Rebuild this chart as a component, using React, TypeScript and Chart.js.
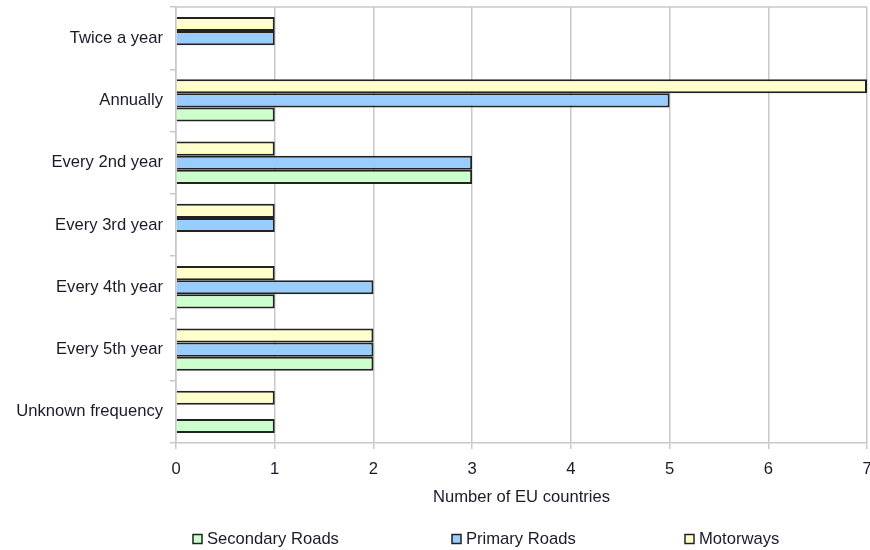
import { useEffect, useRef } from 'react';
import { Chart, registerables } from 'chart.js';

Chart.register(...registerables);

const categories = [
  'Twice a year',
  'Annually',
  'Every 2nd year',
  'Every 3rd year',
  'Every 4th year',
  'Every 5th year',
  'Unknown frequency',
];
const motorways = [1, 7, 1, 1, 1, 2, 1];
const primaryRoads = [1, 5, 3, 1, 2, 2, 0];
const secondaryRoads = [0, 1, 3, 0, 1, 2, 1];
const xTicks = [0, 1, 2, 3, 4, 5, 6, 7];

const FONT = '"Liberation Sans", Arial, sans-serif';
const FSIZE = 16.6;
const TEXT = '#1a1a2a';
const GRID = '#c8c8c8';

// legend item x positions (box left), drawn under the axis title
const legendX = [193, 452, 685];

const frame = {
  id: 'frame',
  beforeDatasetsDraw(chart: Chart) {
    const { ctx, chartArea } = chart;
    ctx.save();
    ctx.strokeStyle = GRID;
    ctx.lineWidth = 1.5;
    ctx.beginPath();
    ctx.moveTo(chartArea.left, chartArea.top);
    ctx.lineTo(chartArea.right, chartArea.top);
    ctx.stroke();
    ctx.restore();
  },
};

const bottomLegend = {
  id: 'bottomLegend',
  afterDraw(chart: Chart) {
    const { ctx } = chart;
    const items = chart.data.datasets.slice().reverse();
    ctx.save();
    ctx.font = `${FSIZE}px ${FONT}`;
    ctx.textBaseline = 'middle';
    items.forEach((ds, i) => {
      const x = legendX[i];
      const y = 539;
      ctx.fillStyle = ds.backgroundColor as string;
      ctx.fillRect(x, y - 4.5, 9, 9);
      ctx.strokeStyle = '#222';
      ctx.lineWidth = 1.5;
      ctx.strokeRect(x, y - 4.5, 9, 9);
      ctx.fillStyle = TEXT;
      ctx.fillText(ds.label as string, x + 14, y);
    });
    ctx.restore();
  },
};

export default function App() {
  const canvasRef = useRef<HTMLCanvasElement>(null);

  useEffect(() => {
    document.body.style.margin = '0';
    if (!canvasRef.current) return;
    const chart = new Chart(canvasRef.current, {
      type: 'bar',
      data: {
        labels: categories,
        datasets: [
          { label: 'Motorways', data: motorways, backgroundColor: '#ffffcc' },
          { label: 'Primary Roads', data: primaryRoads, backgroundColor: '#99ccff' },
          { label: 'Secondary Roads', data: secondaryRoads, backgroundColor: '#ccffcc' },
        ].map((d) => ({
          ...d,
          borderColor: '#222',
          borderWidth: 2,
          barPercentage: 1,
          categoryPercentage: 0.68,
        })),
      },
      options: {
        indexAxis: 'y',
        responsive: false,
        animation: false,
        layout: { padding: { top: 7, right: 3, left: 0, bottom: 0 } },
        plugins: { legend: { display: false }, tooltip: { enabled: false } },
        scales: {
          x: {
            min: 0,
            max: 7,
            afterBuildTicks: (s) => { s.ticks = xTicks.map((v) => ({ value: v })); },
            afterFit: (s) => { s.height = 107; s.paddingLeft = 0; s.paddingRight = 0; },
            grid: { color: GRID, lineWidth: 1.5, tickLength: 6 },
            border: { color: GRID, width: 1.5 },
            ticks: { color: TEXT, font: { family: FONT, size: FSIZE }, padding: 10 },
            title: {
              display: true,
              text: 'Number of EU countries',
              color: TEXT,
              font: { family: FONT, size: FSIZE },
              padding: { top: 0, bottom: 43 },
            },
          },
          y: {
            afterFit: (s) => { s.width = 176; s.paddingTop = 0; s.paddingBottom = 0; },
            grid: { offset: true, drawOnChartArea: false, color: GRID, lineWidth: 1.5, tickLength: 6 },
            border: { color: GRID, width: 1.5 },
            ticks: { color: TEXT, font: { family: FONT, size: FSIZE }, padding: 7 },
          },
        },
      },
      plugins: [frame, bottomLegend],
    });
    return () => chart.destroy();
  }, []);

  return (
    <div style={{ width: 870, height: 550, background: '#fff' }}>
      <canvas ref={canvasRef} width={870} height={550} style={{ display: 'block' }} />
    </div>
  );
}
